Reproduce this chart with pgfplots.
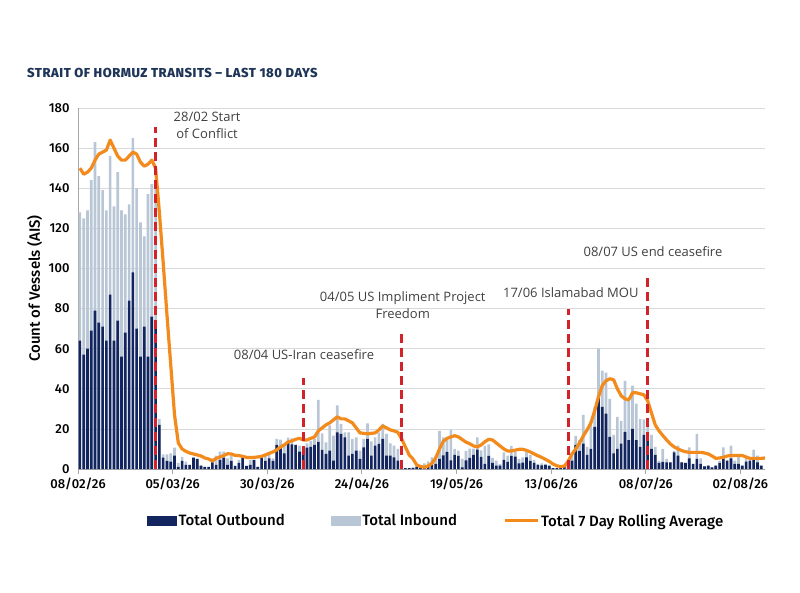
\documentclass[border=0pt]{standalone}
\usepackage{fontspec}
\setmainfont{Open Sans}
\newfontfamily\dinf{Fira Sans Medium}
\usepackage{pgfplots}
\usepackage{pgfplotstable}
\pgfplotsset{compat=1.18}
\definecolor{navyc}{HTML}{13255E}
\definecolor{inbc}{HTML}{B9C6D6}
\definecolor{orc}{HTML}{F28A1C}
\definecolor{redc}{HTML}{D2232A}
\definecolor{titc}{HTML}{1F3558}
\definecolor{gridc}{HTML}{D9D9D9}
\definecolor{txtc}{HTML}{404040}

% day, outbound, total (outbound + inbound)
\pgfplotstableread{
d out tot
0 64 128
1 57 125
2 60 129
3 69 144
4 79 163
5 73 146
6 71 139
7 64 129
8 87 156
9 64 131
10 74 148
11 56 129
12 68 127
13 84 132
14 98 165
15 70 140
16 56 123
17 71 116
18 56 137
19 76 142
20 72 140
21 22 25
22 5.7 7.3
23 4 7.3
24 3.7 7.8
25 6.7 10.7
26 1 3
27 4 6
28 2 3.7
29 2 2
30 5.7 5.7
31 5 5
32 1.7 1.7
33 1 1
34 1 1
35 3.3 5.3
36 2 6.7
37 4.5 8.7
38 5.7 8.7
39 2 5.3
40 4 6.7
41 1.5 1.5
42 3 4.5
43 5.7 5.7
44 1.5 1.5
45 2 4.5
46 4.5 4.5
47 1 1
48 5.7 5.7
49 4 6.7
50 5.3 8.3
51 4 5.3
52 12 15
53 10.3 14.7
54 7.8 11.7
55 13.3 15.7
56 12.3 15.3
57 12 12
58 8.7 11.7
59 8.7 11
60 10.7 12.8
61 11 14
62 12 15
63 13.5 34.5
64 9.5 17.8
65 7.5 13.3
66 9.2 21.7
67 4.2 16.7
68 18.3 31.7
69 17.5 22.5
70 15.8 18.3
71 6.7 18.3
72 7.5 15
73 9.2 15.8
74 5 9.2
75 10.8 15
76 15 22.8
77 6.7 13.8
78 11.7 15.8
79 12.5 18.3
80 15 22.5
81 6.7 17.5
82 6.7 12.8
83 5.8 11.7
84 4.2 10
85 2 3
86 0.5 0.5
87 0.5 0.5
88 0.5 1
89 1 1.5
90 0.5 0.5
91 1 2.8
92 1.7 3.8
93 2.2 5.8
94 2.5 6.7
95 5 19
96 6.8 15.8
97 8.5 15.8
98 4.3 19.5
99 7 10
100 6.5 9.2
101 0.8 5
102 4.3 9
103 5.5 10.2
104 7 10.2
105 9.7 15.8
106 6 9.3
107 2.6 11.5
108 6.5 12.3
109 3 5.5
110 1.7 4.2
111 1.7 2.5
112 4.5 8.3
113 3.5 6.7
114 6.5 11.5
115 6.2 8.5
116 2.8 5
117 3.2 5.8
118 5.8 8.5
119 4 7
120 3 4.5
121 2 2.5
122 1.8 2.8
123 2 2.5
124 1.5 2
125 0.5 0.5
126 0.5 0.5
127 1 1
128 1.2 1.5
129 1.2 4.2
130 4.2 6.7
131 12 16.5
132 9 14.5
133 12.6 27
134 7 11
135 10 24
136 21 31
137 36 60
138 31 49
139 27.6 48
140 16 35
141 7.8 17
142 10 26
143 12.7 24
144 18.5 44
145 14.4 34
146 20 41.6
147 14.4 32.6
148 11 25
149 17 24.8
150 17 24.8
151 10 17
152 7 11
153 3 4
154 3.5 10
155 3.3 5
156 3.3 3.3
157 8.3 9
158 6.7 11.7
159 3.3 3.3
160 3 3
161 5.3 10.8
162 2.5 2.5
163 5 17.5
164 2.5 5.3
165 1.3 1.3
166 1.7 1.7
167 0.8 0.8
168 1.7 1.7
169 3 4.2
170 5 10.8
171 4.2 4.2
172 5.3 11.7
173 2.5 4.2
174 2.5 6.7
175 1.7 1.7
176 3.7 5.8
177 4.2 4.2
178 5.3 9.7
179 3.3 6.7
180 1.7 1.7
}\bars

% 7 day rolling average
\pgfplotstableread{
d avg
0 150
1 147
2 148
3 150
4 154
5 157
6 158
7 159
8 164
9 160
10 156
11 154
12 154
13 156
14 158
15 157
16 153
17 151
18 152
19 154
20 150
21 128
22 103
23 77
24 52
25 27
26 13
27 10
28 8.8
29 8
30 7.5
31 7
32 6.5
33 5.5
34 5
35 4
36 5.3
37 6
38 6.7
39 7.6
40 7.5
41 6.8
42 6.7
43 6.3
44 5.8
45 5.7
46 5.8
47 6
48 6.3
49 7
50 7.8
51 8.5
52 9.5
53 11
54 12
55 13.5
56 14
57 14.8
58 15.3
59 14.5
60 14.5
61 15.3
62 16
63 19
64 20.5
65 22
66 23
67 24.5
68 26
69 25
70 25
71 24
72 23
73 20.5
74 18
75 17.8
76 17.5
77 17.8
78 18
79 19.5
80 21.5
81 20.5
82 19.5
83 19
84 18.3
85 15
86 11
87 7
88 5
89 2
90 1.2
91 0.9
92 1.5
93 2.8
94 5.5
95 10
96 13.8
97 15.3
98 16
99 16.6
100 16
101 14.7
102 13.4
103 12.6
104 11.5
105 11
106 12
107 13.6
108 14.8
109 14.5
110 13
111 11.5
112 10
113 9
114 9
115 9.4
116 9.8
117 9.8
118 9.3
119 8.5
120 7.5
121 6.6
122 5.8
123 4.8
124 3.8
125 2.5
126 1.6
127 1.2
128 1.5
129 3.8
130 7.5
131 10
132 13
133 16.5
134 19.5
135 23
136 29
137 36
138 41.5
139 44
140 45
141 44.5
142 40
143 36.5
144 35
145 34.5
146 38
147 38
148 37.5
149 37
150 34
151 28
152 22
153 19
154 16.7
155 14.5
156 12.5
157 11
158 10
159 9.2
160 8.6
161 8.3
162 8.3
163 8.3
164 8.3
165 8
166 7.5
167 6.5
168 5.3
169 5.5
170 5.8
171 6.5
172 6.7
173 6.7
174 6.7
175 6.7
176 6
177 5.3
178 5.3
179 5.3
180 5.3
181 5.5
}\avgt

\begin{document}
\begin{tikzpicture}
\useasboundingbox (-78pt,-123pt) rectangle (722pt,469pt);
\begin{axis}[
  at={(0pt,0pt)}, anchor=south west,
  width=687pt, height=361pt, scale only axis,
  xmin=0, xmax=181.5, ymin=0, ymax=180,
  ytick={0,20,...,180},
  xtick={0,25,...,175},
  xticklabels={08/02/26,05/03/26,30/03/26,24/04/26,19/05/26,13/06/26,08/07/26,02/08/26},
  axis x line*=bottom, axis y line*=left,
  axis line style={draw=gray!70, line width=0.8pt},
  ymajorgrids, grid style={gridc, line width=0.6pt},
  tick align=outside,
  xtick style={draw=gray!70, line width=0.8pt},
  major tick length=5pt,
  ytick style={draw=none},
  ticklabel style={font=\dinf\fontsize{13}{15}\selectfont, text=black},
  /pgf/number format/assume math mode=true,
  ylabel={Count of Vessels (AIS)},
  ylabel style={font=\dinf\fontsize{15}{18}\selectfont, at={(axis description cs:-0.063,0.5)}, anchor=center},
  ybar, bar width=0.7, bar shift=0pt,
  legend style={at={(axis description cs:0.1004,-0.144)}, anchor=west, draw=none, fill=none,
    legend columns=3, font=\dinf\fontsize{15}{18}\selectfont, inner sep=0pt,
    /tikz/every even column/.append style={column sep=44pt}},
  legend cell align=left,
  clip=false,
]
\addplot[forget plot, fill=inbc, draw=none, bar shift=0pt] table[x expr=\thisrow{d}+0.5, y=tot] {\bars};
\addplot[forget plot, fill=navyc, draw=none, bar shift=0pt] table[x expr=\thisrow{d}+0.5, y=out] {\bars};

\addlegendimage{legend image code/.code={\fill[navyc] (0pt,-4.5pt) rectangle (29pt,4.5pt);}}
\addlegendentry{Total Outbound}
\addlegendimage{legend image code/.code={\fill[inbc] (0pt,-4.5pt) rectangle (29pt,4.5pt);}}
\addlegendentry{Total Inbound}

\addplot[sharp plot, orc, line width=3.2pt, line join=round,
  legend image code/.code={\draw[orc, line width=3pt] (0pt,0pt) -- (33pt,0pt);}]
  table[x expr=\thisrow{d}+0.5, y=avg] {\avgt};
\addlegendentry{Total 7 Day Rolling Average}

\addplot[sharp plot, forget plot, redc, line width=2.8pt, dash pattern=on 9pt off 5pt] coordinates {(20.5,0) (20.5,170.5)};
\addplot[sharp plot, forget plot, redc, line width=2.8pt, dash pattern=on 9pt off 5pt] coordinates {(59.5,0) (59.5,45.4)};
\addplot[sharp plot, forget plot, redc, line width=2.8pt, dash pattern=on 9pt off 5pt] coordinates {(85.5,0) (85.5,69.3)};
\addplot[sharp plot, forget plot, redc, line width=2.8pt, dash pattern=on 9pt off 5pt] coordinates {(129.5,0) (129.5,79.8)};
\addplot[sharp plot, forget plot, redc, line width=2.8pt, dash pattern=on 9pt off 5pt] coordinates {(150.5,0) (150.5,96.7)};

\node[font=\fontsize{13}{17}\selectfont, text=txtc, align=center] at (axis cs:34.1,171.5) {28/02 Start\\of Conflict};
\node[font=\fontsize{13}{17}\selectfont, text=txtc] at (axis cs:59.7,56.8) {08/04 US-Iran ceasefire};
\node[font=\fontsize{13}{17}\selectfont, text=txtc, align=center] at (axis cs:85.8,81.8) {04/05 US Impliment Project\\Freedom};
\node[font=\fontsize{13}{17}\selectfont, text=txtc] at (axis cs:130.2,87.7) {17/06 Islamabad MOU};
\node[font=\fontsize{13}{17}\selectfont, text=txtc] at (axis cs:151.9,108.2) {08/07 US end ceasefire};
\end{axis}
\node[anchor=west, inner sep=0pt, font=\dinf\bfseries\fontsize{13}{15}\selectfont\addfontfeature{LetterSpace=4}, text=titc] at (-51pt,396pt) {STRAIT OF HORMUZ TRANSITS – LAST 180 DAYS};
\end{tikzpicture}
\end{document}
